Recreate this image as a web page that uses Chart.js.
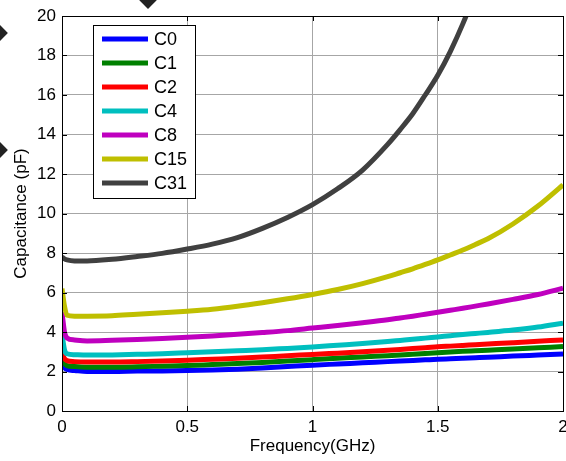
<!DOCTYPE html>
<html>
<head>
<meta charset="utf-8">
<script src="https://cdn.jsdelivr.net/npm/chart.js@4/dist/chart.umd.min.js"></script>
<style>
    html, body { margin: 0; padding: 0; background: #fff; overflow: hidden; }
    #wrap { position: relative; width: 566px; height: 461px; }
    .diamond { position: absolute; width: 14px; height: 14px; background: #222; transform: rotate(45deg); }
</style>
</head>
<body>
<div id="wrap">
    <canvas id="cap-chart" width="566" height="461"></canvas>
    <div class="diamond" style="left:-9px;top:26px"></div>
    <div class="diamond" style="left:-9px;top:143px"></div>
    <div class="diamond" style="left:141px;top:-8px"></div>
</div>
<script>
// frequency points (GHz)
const freq = [0, 0.01, 0.02, 0.05, 0.1, 0.2, 0.3, 0.4, 0.5, 0.6, 0.7, 0.8, 0.9, 1.0, 1.1, 1.2, 1.3, 1.35, 1.4, 1.45, 1.5, 1.55, 1.6, 1.65, 1.7, 1.8, 1.9, 2.0];

// capacitance (pF) per state
const c0  = [2.5, 2.2, 2.1, 2.05, 2.0, 2.0, 2.02, 2.03, 2.05, 2.08, 2.12, 2.18, 2.25, 2.32, 2.38, 2.44, 2.5, 2.53, 2.56, 2.59, 2.62, 2.645, 2.67, 2.695, 2.72, 2.78, 2.83, 2.88];
const c1  = [2.65, 2.4, 2.3, 2.25, 2.22, 2.22, 2.24, 2.27, 2.3, 2.35, 2.4, 2.46, 2.53, 2.6, 2.67, 2.74, 2.8, 2.835, 2.87, 2.91, 2.95, 2.985, 3.02, 3.05, 3.08, 3.14, 3.2, 3.26];
const c2  = [2.95, 2.65, 2.55, 2.5, 2.48, 2.48, 2.5, 2.53, 2.57, 2.62, 2.67, 2.73, 2.8, 2.86, 2.93, 3.0, 3.08, 3.12, 3.16, 3.2, 3.25, 3.285, 3.32, 3.355, 3.39, 3.46, 3.53, 3.6];
const c4  = [3.9, 3.1, 2.9, 2.85, 2.83, 2.84, 2.87, 2.9, 2.95, 3.0, 3.05, 3.1, 3.17, 3.24, 3.33, 3.42, 3.52, 3.575, 3.63, 3.69, 3.75, 3.81, 3.87, 3.925, 3.98, 4.1, 4.25, 4.45];
const c8  = [5.0, 4.0, 3.7, 3.6, 3.55, 3.58, 3.62, 3.67, 3.73, 3.8, 3.88, 3.97, 4.07, 4.2, 4.33, 4.47, 4.62, 4.71, 4.8, 4.9, 5.0, 5.1, 5.2, 5.31, 5.42, 5.65, 5.9, 6.22];
const c15 = [6.2, 5.3, 4.85, 4.8, 4.8, 4.82, 4.9, 4.97, 5.05, 5.15, 5.3, 5.48, 5.68, 5.9, 6.15, 6.45, 6.8, 7.0, 7.2, 7.42, 7.65, 7.9, 8.15, 8.43, 8.72, 9.47, 10.38, 11.45];
const c31 = [7.8, 7.7, 7.65, 7.6, 7.6, 7.68, 7.82, 7.98, 8.2, 8.45, 8.78, 9.25, 9.8, 10.45, 11.25, 12.2, 13.5, 14.25, 15.05, 16.0, 17.0, 18.2, 19.6, 21.2, 23.0, null, null, null];

const seriesNames = ['C0', 'C1', 'C2', 'C4', 'C8', 'C15', 'C31'];
const seriesValues = [c0, c1, c2, c4, c8, c15, c31];
const seriesColors = ['#0000ff', '#008000', '#ff0000', '#00bfbf', '#bf00bf', '#bfbf00', '#404040'];

const xTicks = [0, 0.5, 1, 1.5, 2];
const yMin = 0, yMax = 20, yStep = 2;

const FONT = '"Liberation Sans", Arial, sans-serif';

// MATLAB-style box, inward ticks and in-axes legend
const matlabAxes = {
    id: 'matlabAxes',
    afterDatasetsDraw(chart) {
        const { ctx, chartArea: a, scales: { x, y } } = chart;
        ctx.save();
        ctx.strokeStyle = '#000';
        ctx.lineWidth = 1;
        ctx.beginPath();
        x.ticks.forEach(t => {
            const px = Math.round(x.getPixelForValue(t.value)) + 0.5;
            ctx.moveTo(px, a.bottom); ctx.lineTo(px, a.bottom - 5);
            ctx.moveTo(px, a.top); ctx.lineTo(px, a.top + 5);
        });
        y.ticks.forEach(t => {
            const py = Math.round(y.getPixelForValue(t.value)) + 0.5;
            ctx.moveTo(a.left, py); ctx.lineTo(a.left + 5, py);
            ctx.moveTo(a.right, py); ctx.lineTo(a.right - 5, py);
        });
        ctx.stroke();
        ctx.strokeRect(Math.round(a.left) + 0.5, Math.round(a.top) + 0.5,
            Math.round(a.right - a.left), Math.round(a.bottom - a.top));

        // legend box
        const lx = 93, ly = 25, lw = 102, lh = 173;
        ctx.fillStyle = '#fff';
        ctx.fillRect(lx, ly, lw, lh);
        ctx.strokeRect(lx + 0.5, ly + 0.5, lw, lh);
        ctx.font = '18px ' + FONT;
        ctx.textBaseline = 'middle';
        chart.data.datasets.forEach((ds, i) => {
            const rowY = 39 + i * 24;
            ctx.strokeStyle = ds.borderColor;
            ctx.lineWidth = 5;
            ctx.beginPath();
            ctx.moveTo(102, rowY); ctx.lineTo(148, rowY);
            ctx.stroke();
            ctx.fillStyle = '#000';
            ctx.fillText(ds.label, 154, rowY + 1);
        });
        ctx.restore();
    }
};

new Chart(document.getElementById('cap-chart'), {
    type: 'line',
    data: {
        datasets: seriesNames.map((name, i) => ({
            label: name,
            data: freq.map((f, j) => ({ x: f, y: seriesValues[i][j] })),
            borderColor: seriesColors[i],
            backgroundColor: seriesColors[i],
            borderWidth: 5,
            pointRadius: 0,
            cubicInterpolationMode: 'monotone',
            fill: false,
            order: seriesNames.length - i
        }))
    },
    options: {
        responsive: false,
        animation: false,
        layout: { padding: { top: 16, right: 3, left: 0, bottom: 0 } },
        plugins: { legend: { display: false }, tooltip: { enabled: false } },
        scales: {
            x: {
                type: 'linear',
                min: 0,
                max: 2,
                afterBuildTicks: s => { s.ticks = xTicks.map(v => ({ value: v })); },
                afterFit: s => { s.height = 50; s.paddingLeft = 0; s.paddingRight = 0; },
                grid: { color: '#a6a6a6', drawTicks: false },
                border: { display: true, color: '#000' },
                ticks: {
                    color: '#000', padding: 6, maxRotation: 0,
                    font: { family: FONT, size: 17 },
                    callback: v => String(v)
                },
                title: { display: true, text: 'Frequency(GHz)', color: '#000', padding: { top: 0, bottom: 4 }, font: { family: FONT, size: 17 } }
            },
            y: {
                min: yMin,
                max: yMax,
                ticks: { stepSize: yStep, color: '#000', padding: 6, font: { family: FONT, size: 17 } },
                afterFit: s => { s.width = 62; s.paddingTop = 0; s.paddingBottom = 0; },
                grid: { color: '#a6a6a6', drawTicks: false },
                border: { display: true, color: '#000' },
                title: { display: true, text: 'Capacitance (pF)', color: '#000', padding: { top: 11, bottom: 0 }, font: { family: FONT, size: 17 } }
            }
        }
    },
    plugins: [matlabAxes]
});
</script>
</body>
</html>
